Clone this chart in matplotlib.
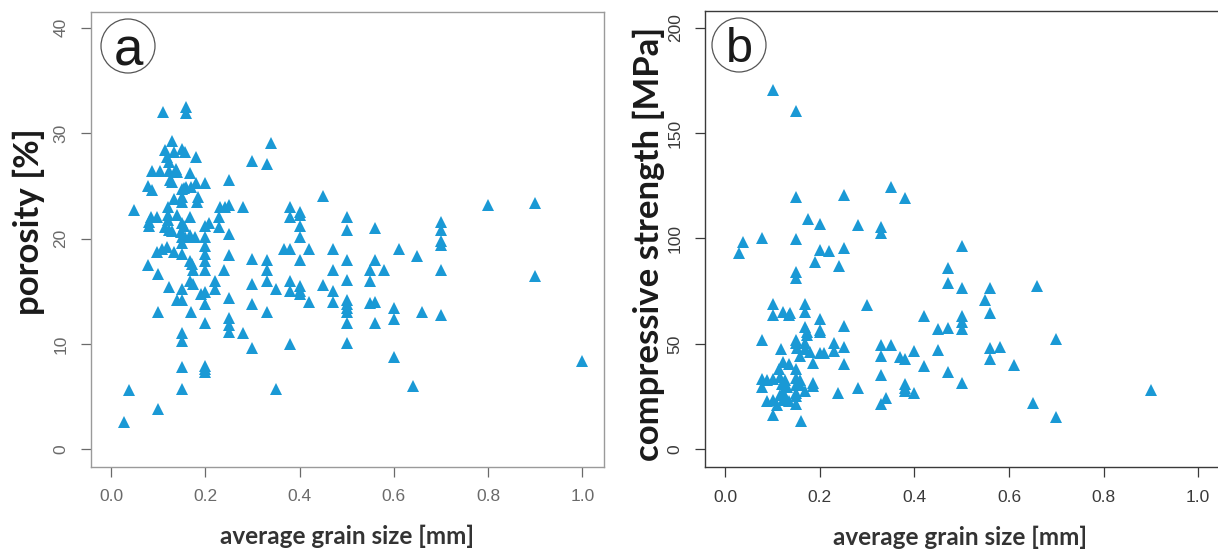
import matplotlib
matplotlib.use('Agg')
import matplotlib.pyplot as plt
from matplotlib.patches import Ellipse

# panel a: grain size [mm] vs porosity [%]
por_x = [0.11, 0.16, 0.16, 0.13, 0.34, 0.114, 0.133, 0.15, 0.158, 0.119, 0.123, 0.18,
         0.30, 0.33, 0.088, 0.104, 0.124, 0.138, 0.14, 0.168, 0.126, 0.13, 0.25, 0.079,
         0.088, 0.15, 0.155, 0.16, 0.17, 0.2, 0.18, 0.45, 0.133, 0.15, 0.151, 0.185,
         0.182, 0.049, 0.12, 0.232, 0.242, 0.25, 0.28, 0.38, 0.4, 0.4, 0.38, 0.084,
         0.098, 0.081, 0.081, 0.12, 0.12, 0.14, 0.168, 0.23, 0.23, 0.2, 0.208, 0.4,
         0.114, 0.123, 0.13, 0.15, 0.155, 0.148, 0.151, 0.15, 0.157, 0.168, 0.179, 0.2,
         0.25, 0.4, 0.098, 0.109, 0.119, 0.133, 0.151, 0.2, 0.2, 0.25, 0.30, 0.33,
         0.368, 0.38, 0.42, 0.47, 0.4, 0.47, 0.079, 0.168, 0.172, 0.2, 0.24, 0.2,
         0.175, 0.1, 0.33,
         0.124, 0.15, 0.168, 0.175, 0.22, 0.22, 0.2, 0.19, 0.14, 0.15, 0.25, 0.30,
         0.30, 0.33, 0.35, 0.38, 0.38, 0.4, 0.4, 0.4, 0.42, 0.45, 0.47, 0.47,
         0.1, 0.17, 0.2, 0.2, 0.25, 0.25, 0.25, 0.28, 0.30, 0.33, 0.38, 0.15,
         0.15, 0.15, 0.2, 0.2, 0.2, 0.039, 0.15, 0.35, 0.1, 0.028,
         0.8, 0.9, 0.5, 0.5, 0.56, 0.7, 0.7, 0.7, 0.7, 0.61, 0.65, 0.5,
         0.56, 0.55, 0.58, 0.7, 0.9, 0.5, 0.55, 0.5, 0.5, 0.5, 0.5, 0.55,
         0.56, 0.6, 0.6, 0.66, 0.7, 0.5, 0.56, 0.5, 0.6, 0.64, 1.0]
por_y = [32.0, 32.5, 31.9, 29.3, 29.1, 28.4, 28.2, 28.5, 28.2, 27.7, 27.3, 27.7,
         27.4, 27.1, 26.4, 26.4, 26.4, 26.6, 26.3, 26.2, 25.6, 25.4, 25.6, 25.0,
         24.6, 24.7, 24.8, 24.9, 24.9, 25.3, 25.3, 24.0, 23.8, 23.9, 23.5, 23.9,
         23.5, 22.7, 23.0, 23.0, 23.0, 23.2, 23.0, 23.0, 22.5, 22.2, 22.0, 22.0,
         22.0, 21.6, 21.2, 22.2, 21.8, 22.2, 22.0, 22.0, 21.1, 21.2, 21.5, 21.2,
         21.1, 20.8, 20.7, 21.5, 21.2, 20.6, 20.1, 19.6, 20.1, 20.3, 20.1, 20.1,
         20.4, 20.1, 18.7, 19.0, 19.2, 18.7, 18.5, 19.3, 18.5, 18.4, 18.1, 18.0,
         19.0, 19.0, 19.0, 19.0, 18.0, 17.0, 17.5, 17.9, 17.6, 17.9, 17.0, 17.0,
         17.0, 16.6, 17.0,
         15.4, 15.2, 16.0, 15.7, 16.0, 15.2, 14.9, 14.7, 14.2, 14.2, 14.4, 15.7,
         13.8, 16.0, 15.2, 16.0, 15.0, 15.5, 15.0, 14.7, 14.0, 15.6, 15.0, 14.0,
         13.0, 13.0, 13.8, 12.0, 12.5, 11.8, 11.1, 11.0, 9.6, 13.0, 10.0, 11.0,
         10.3, 7.8, 7.9, 7.6, 7.3, 5.6, 5.7, 5.7, 3.8, 2.6,
         23.2, 23.4, 22.0, 20.8, 21.0, 21.6, 20.8, 19.8, 19.4, 19.0, 18.3, 18.0,
         18.0, 17.0, 17.0, 17.0, 16.4, 16.1, 16.0, 14.2, 13.8, 13.4, 13.0, 13.9,
         14.0, 13.4, 12.4, 13.0, 12.7, 12.0, 12.0, 10.1, 8.8, 6.0, 8.4]

# panel b: grain size [mm] vs compressive strength [MPa]
ucs_x = [0.10, 0.15, 0.15, 0.25, 0.35, 0.38, 0.174, 0.2, 0.28, 0.33, 0.33, 0.037,
         0.028, 0.078, 0.15, 0.2, 0.22, 0.25, 0.189, 0.24, 0.15, 0.15, 0.47, 0.47,
         0.1, 0.169, 0.1, 0.123, 0.137, 0.134, 0.169, 0.30, 0.42, 0.2, 0.2, 0.2,
         0.25, 0.169, 0.172, 0.172, 0.078, 0.118, 0.15, 0.15, 0.151, 0.158, 0.169, 0.169,
         0.179, 0.2, 0.209, 0.23, 0.23, 0.25, 0.25, 0.185, 0.123, 0.134, 0.114, 0.078,
         0.088, 0.1, 0.078, 0.116, 0.127, 0.12, 0.13, 0.15, 0.15, 0.158, 0.15, 0.158,
         0.185, 0.185, 0.169, 0.123, 0.116, 0.127, 0.088, 0.1, 0.109, 0.123, 0.134, 0.15,
         0.15, 0.15, 0.1, 0.159, 0.238, 0.28, 0.33, 0.35, 0.33, 0.37, 0.38, 0.4,
         0.42, 0.33, 0.38, 0.38, 0.38, 0.4, 0.34, 0.33, 0.45, 0.47, 0.45, 0.47,
         0.5, 0.5, 0.56, 0.55, 0.66, 0.56, 0.5, 0.5, 0.5, 0.56, 0.58, 0.56,
         0.61, 0.7, 0.5, 0.65, 0.7, 0.9]
ucs_y = [170.4, 160.6, 119.8, 120.6, 124.6, 119.1, 109.3, 106.7, 106.4, 105.3, 102.5, 98.5,
         93.0, 100.4, 99.6, 94.5, 94.1, 95.6, 88.7, 87.0, 84.3, 81.1, 86.2, 79.0,
         68.9, 68.9, 63.7, 65.3, 64.8, 63.7, 65.0, 68.5, 63.2, 61.7, 56.6, 55.8,
         58.5, 58.2, 55.8, 54.2, 51.9, 47.6, 51.9, 50.3, 48.0, 44.5, 50.3, 47.6,
         46.0, 45.8, 45.8, 50.3, 46.6, 48.4, 40.3, 40.8, 41.6, 40.3, 38.0, 33.3,
         32.9, 33.2, 29.7, 34.5, 33.0, 30.8, 29.6, 38.0, 34.0, 32.9, 30.5, 30.5,
         31.3, 30.0, 27.6, 27.3, 25.6, 24.8, 22.8, 23.3, 20.8, 23.3, 22.8, 21.7,
         25.2, 26.7, 16.3, 13.6, 26.9, 28.9, 49.5, 49.5, 44.3, 43.6, 42.8, 46.6,
         39.7, 35.2, 31.0, 28.9, 27.6, 26.9, 24.2, 21.5, 57.1, 57.7, 47.1, 36.8,
         96.4, 76.4, 76.4, 70.8, 77.5, 64.5, 63.4, 60.5, 57.1, 48.2, 48.4, 42.7,
         40.0, 52.2, 31.3, 22.1, 15.5, 28.1]

xticks = [0.0, 0.2, 0.4, 0.6, 0.8, 1.0]
por_ticks = [0, 10, 20, 30, 40]
ucs_ticks = [0, 50, 100, 150, 200]

blue = '#1a99d5'
lab_font = ['Lato', 'DejaVu Sans']

fig = plt.figure(figsize=(12.18, 5.5), dpi=100)
ax1 = fig.add_axes([0.0745, 0.1515, 0.4214, 0.8267])
ax2 = fig.add_axes([0.5788, 0.1504, 0.4228, 0.8302])


def style_axes(ax, edge, tickcol):
    for s in ax.spines.values():
        s.set_color(edge)
        s.set_linewidth(1.0)
    ax.tick_params(direction='out', length=7, width=0.9, color=tickcol,
                   labelcolor=tickcol, labelsize=12.5, pad=9)
    ax.tick_params(axis='y', labelrotation=90)
    for lb in ax.get_yticklabels():
        lb.set_va('center')
        lb.set_family('Liberation Sans')
    for lb in ax.get_xticklabels():
        lb.set_family('Liberation Sans')


# panel a
ax1.plot(por_x, por_y, linestyle='none', marker='^', markersize=8.5,
         color=blue, markeredgewidth=0)
ax1.set_xlim(-0.043, 1.046)
ax1.set_ylim(-1.65, 41.5)
ax1.set_xticks(xticks)
ax1.set_xticklabels(['%.1f' % v for v in xticks])
ax1.set_yticks(por_ticks)
style_axes(ax1, '#9a9a9a', '#6a6a6a')
ax1.set_xlabel('average grain size [mm]', fontsize=17.5, fontweight='bold',
               color='#333333', family=lab_font)
ax1.xaxis.set_label_coords(0.5, -0.127)
ax1.set_ylabel('porosity [%]', fontsize=25, fontweight='bold',
               color='#1a1a1a', family=lab_font)
ax1.yaxis.set_label_coords(-0.089, 0.54)

# panel b
ax2.plot(ucs_x, ucs_y, linestyle='none', marker='^', markersize=8.5,
         color=blue, markeredgewidth=0)
ax2.set_xlim(-0.043, 1.046)
ax2.set_ylim(-8.5, 208)
ax2.set_xticks(xticks)
ax2.set_xticklabels(['%.1f' % v for v in xticks])
ax2.set_yticks(ucs_ticks)
style_axes(ax2, '#3a3a3a', '#3a3a3a')
ax2.set_xlabel('average grain size [mm]', fontsize=17.5, fontweight='bold',
               color='#333333', family=lab_font)
ax2.xaxis.set_label_coords(0.495, -0.127)
ax2.set_ylabel('compressive strength [MPa]', fontsize=25, fontweight='bold',
               color='#1a1a1a', family=lab_font)
ax2.yaxis.set_label_coords(-0.078, 0.49)

# panel letters in circles
for cx, cy, letter, fs in [(128, 46, 'a', 38), (739, 45, 'b', 35)]:
    fx, fy = cx / 1218, 1 - cy / 550
    fig.patches.append(Ellipse((fx, fy), 54 / 1218, 54 / 550, transform=fig.transFigure,
                               facecolor='white', edgecolor='#555555', linewidth=0.9))
    fig.text(fx, fy, letter, ha='center', va='center_baseline', fontsize=fs,
             color='#1a1a1a', family='Liberation Sans')

fig.savefig('out.png', dpi=100)
